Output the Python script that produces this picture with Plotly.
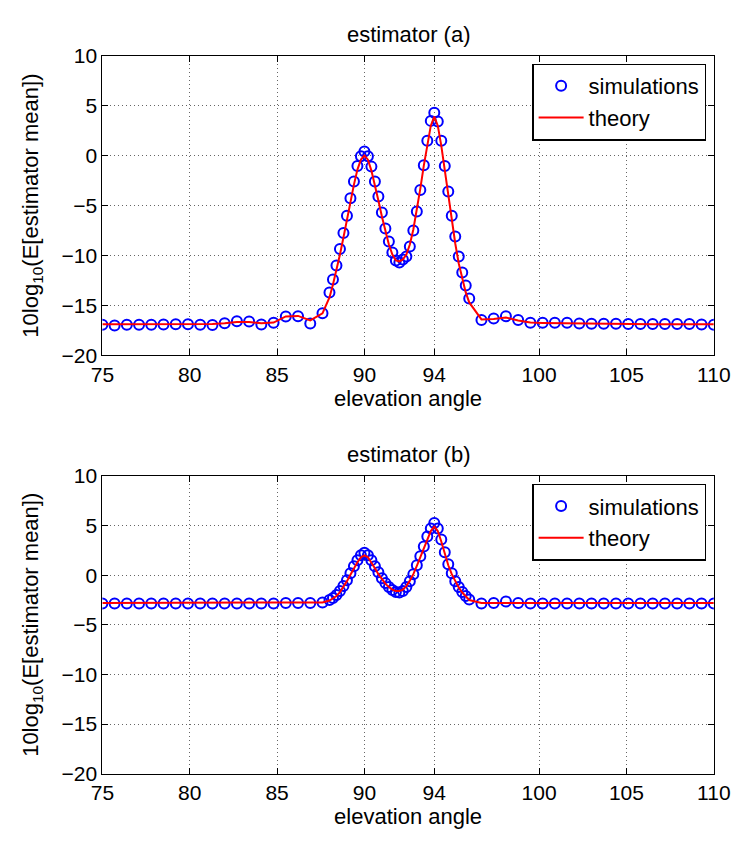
import plotly.graph_objects as go

# ---------------- data ----------------
angles_left = [75.0, 75.7, 76.4, 77.1, 77.8, 78.5, 79.2, 79.9, 80.6, 81.3,
               82.0, 82.7, 83.4, 84.1, 84.8, 85.5, 86.2, 86.9, 87.6]
angles_mid = [88.0, 88.2, 88.4, 88.6, 88.8, 89.0, 89.2, 89.4, 89.6, 89.8,
              90.0, 90.2, 90.4, 90.6, 90.8, 91.0, 91.2, 91.4, 91.6, 91.8,
              92.0, 92.2, 92.4, 92.6, 92.8, 93.0, 93.2, 93.4, 93.6, 93.8,
              94.0, 94.2, 94.4, 94.6, 94.8, 95.0, 95.2, 95.4, 95.6, 95.8, 96.0]
angles_right = [96.7, 97.4, 98.1, 98.8, 99.5, 100.2, 100.9, 101.6, 102.3, 103.0,
                103.7, 104.4, 105.1, 105.8, 106.5, 107.2, 107.9, 108.6, 109.3, 110.0]
angles = angles_left + angles_mid + angles_right

sim_a_left = [-16.94, -17.0, -16.94, -16.94, -16.94, -16.91, -16.88, -16.88, -16.94, -16.97,
              -16.78, -16.58, -16.61, -16.91, -16.74, -16.12, -16.09, -16.81, -15.79]
sim_a_mid = [-13.7, -12.4, -11.0, -9.35, -7.74, -6.03, -4.26, -2.58, -1.03, -0.06,
             0.42, -0.06, -1.1, -2.6, -4.1, -5.7, -7.3, -8.6, -9.7, -10.5,
             -10.7, -10.4, -10.1, -9.1, -7.5, -5.6, -3.45, -0.97, 1.48, 3.48,
             4.29, 3.42, 1.48, -1.03, -3.6, -6.03, -8.1, -10.1, -11.7, -13.0, -14.3]
sim_a_right = [-16.45, -16.32, -16.09, -16.45, -16.74, -16.74, -16.74, -16.74, -16.81, -16.84,
               -16.84, -16.84, -16.87, -16.87, -16.87, -16.87, -16.87, -16.87, -16.9, -16.94]
sim_a = sim_a_left + sim_a_mid + sim_a_right

th_a_left = [-16.88, -16.88, -16.88, -16.88, -16.87, -16.87, -16.85, -16.85, -16.87, -16.85,
             -16.78, -16.66, -16.66, -16.78, -16.72, -16.1, -16.05, -16.5, -15.8]
th_a_mid = [-14.2, -12.9, -11.5, -9.9, -8.2, -6.4, -4.6, -2.9, -1.4, -0.4,
            0.0, -0.4, -1.5, -2.9, -4.5, -6.1, -7.6, -8.9, -9.9, -10.5,
            -10.6, -10.4, -9.9, -8.9, -7.4, -5.5, -3.3, -1.0, 1.2, 3.0,
            3.9, 3.0, 1.0, -1.5, -4.1, -6.6, -8.8, -10.8, -12.4, -13.7, -14.7]
th_a_right = [-16.4, -16.35, -16.2, -16.5, -16.72, -16.76, -16.78, -16.8, -16.82, -16.84,
              -16.85, -16.86, -16.87, -16.87, -16.88, -16.88, -16.88, -16.88, -16.88, -16.88]
th_a = th_a_left + th_a_mid + th_a_right

sim_b_left = [-2.85, -2.85, -2.85, -2.85, -2.85, -2.85, -2.85, -2.85, -2.85, -2.85,
              -2.85, -2.85, -2.85, -2.85, -2.85, -2.8, -2.8, -2.8, -2.75]
sim_b_mid = [-2.5, -2.3, -2.0, -1.6, -1.1, -0.5, 0.2, 0.9, 1.5, 2.0,
             2.25, 2.0, 1.5, 0.9, 0.3, -0.3, -0.8, -1.2, -1.5, -1.7,
             -1.75, -1.6, -1.2, -0.6, 0.1, 1.0, 1.9, 2.9, 3.9, 4.7,
             5.25, 4.7, 3.6, 2.3, 1.1, 0.2, -0.6, -1.2, -1.7, -2.1, -2.45]
sim_b_right = [-2.85, -2.8, -2.65, -2.8, -2.85, -2.85, -2.85, -2.85, -2.85, -2.85,
               -2.85, -2.85, -2.85, -2.85, -2.85, -2.85, -2.85, -2.85, -2.85, -2.85]
sim_b = sim_b_left + sim_b_mid + sim_b_right

th_b_left = [-2.8, -2.8, -2.8, -2.8, -2.8, -2.8, -2.8, -2.8, -2.8, -2.8,
             -2.8, -2.8, -2.8, -2.8, -2.8, -2.8, -2.8, -2.8, -2.75]
th_b_mid = [-2.55, -2.35, -2.1, -1.7, -1.2, -0.6, 0.05, 0.7, 1.3, 1.8,
            2.0, 1.8, 1.3, 0.7, 0.1, -0.4, -0.85, -1.2, -1.45, -1.6,
            -1.6, -1.45, -1.1, -0.55, 0.1, 0.95, 1.85, 2.8, 3.7, 4.45,
            4.9, 4.45, 3.4, 2.15, 1.0, 0.1, -0.65, -1.25, -1.75, -2.15, -2.5]
th_b_right = [-2.8, -2.8, -2.8, -2.8, -2.8, -2.8, -2.8, -2.8, -2.8, -2.8,
              -2.8, -2.8, -2.8, -2.8, -2.8, -2.8, -2.8, -2.8, -2.8, -2.8]
th_b = th_b_left + th_b_mid + th_b_right

x_ticks = [75, 80, 85, 90, 94, 100, 105, 110]
y_ticks = [-20, -15, -10, -5, 0, 5, 10]
titles = ["estimator (a)", "estimator (b)"]
x_label = "elevation angle"
y_label = "10log<sub>10</sub>(E[estimator mean])"

# ---------------- figure ----------------
W, H = 751, 842
FONT = "Liberation Sans, Arial, Helvetica, sans-serif"
TICK_SIZE = 21
LABEL_SIZE = 22
px_x0, px_x1 = 94, 730
tops = [45, 477]
bots = [353, 783]

fig = go.Figure()
for i, (sim, th) in enumerate([(sim_a, th_a), (sim_b, th_b)]):
    xa = "x" if i == 0 else "x2"
    ya = "y" if i == 0 else "y2"
    lg = "legend" if i == 0 else "legend2"
    fig.add_trace(go.Scatter(x=angles, y=sim, mode="markers", name="simulations",
                             xaxis=xa, yaxis=ya, legend=lg,
                             marker=dict(symbol="circle-open", size=10, color="#0000ff",
                                         line=dict(width=2, color="#0000ff"))))
    fig.add_trace(go.Scatter(x=angles, y=th, mode="lines", name="theory",
                             xaxis=xa, yaxis=ya, legend=lg,
                             line=dict(color="#ff0000", width=2)))

axis_common = dict(showline=True, linecolor="black", linewidth=1, mirror="ticks",
                   ticks="inside", ticklen=6, tickcolor="black",
                   showgrid=True, gridcolor="rgba(0,0,0,0.6)", griddash="1px,3px", gridwidth=1,
                   zeroline=False, tickfont=dict(family=FONT, size=TICK_SIZE, color="black"))

layout = dict(width=W, height=H, margin=dict(l=0, r=0, t=0, b=0),
              paper_bgcolor="white", plot_bgcolor="white",
              font=dict(family=FONT, size=LABEL_SIZE, color="black"))
annotations = []
for i in range(2):
    sfx = "" if i == 0 else "2"
    dom_y = [1 - bots[i] / H, 1 - tops[i] / H]
    layout["xaxis" + sfx] = dict(axis_common, domain=[px_x0 / W, px_x1 / W], range=[75, 110],
                                 tickvals=x_ticks, anchor="y" + sfx,
                                 title=dict(text=x_label, standoff=1,
                                            font=dict(family=FONT, size=LABEL_SIZE)))
    layout["yaxis" + sfx] = dict(axis_common, domain=dom_y, range=[-20, 10],
                                 tickvals=y_ticks, anchor="x" + sfx,
                                 title=dict(text=y_label, standoff=16,
                                            font=dict(family=FONT, size=LABEL_SIZE)))
    annotations.append(dict(text=titles[i], xref="paper", yref="paper",
                            x=(px_x0 + px_x1) / 2 / W, y=1 - (tops[i] - 22) / H,
                            xanchor="center", yanchor="middle", showarrow=False,
                            font=dict(family=FONT, size=LABEL_SIZE)))
    leg = dict(x=722 / W, y=1 - (tops[i] + 8) / H, xanchor="right", yanchor="top",
               bgcolor="white", bordercolor="black", borderwidth=1.5,
               itemwidth=45,
               font=dict(family=FONT, size=LABEL_SIZE), tracegroupgap=0)
    layout["legend" if i == 0 else "legend2"] = leg
layout["annotations"] = annotations
layout["showlegend"] = True
fig.update_layout(**layout)

fig.write_html("out.html")
